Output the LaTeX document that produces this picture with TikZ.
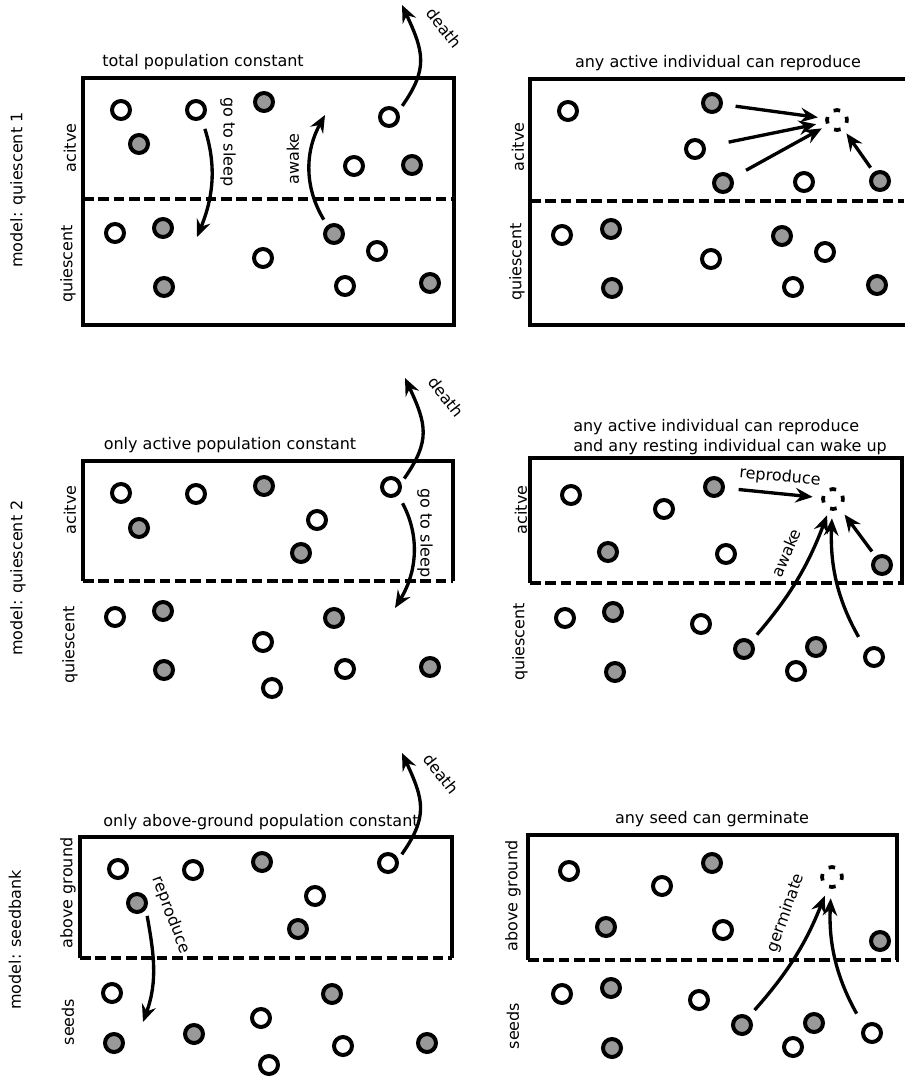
\documentclass[tikz,border=0pt]{standalone}
\usepackage{fontspec}
\setmainfont{DejaVu Sans}
\usetikzlibrary{arrows.meta}

\tikzset{
  wcell/.style={circle, draw, line width=3pt, minimum size=13.5pt, inner sep=0pt, fill=white},
  gcell/.style={wcell, fill=black!40},
  newcell/.style={circle, draw, line width=2.8pt, minimum size=15pt, inner sep=0pt,
    dash pattern=on 5pt off 6.8pt, dash phase=2.5pt},
  boxline/.style={line width=3.4pt},
  divider/.style={line width=3.4pt, dash pattern=on 8pt off 3.5pt},
  arrowline/.style={line width=2.5pt, -{Stealth[length=13pt,width=11pt,inset=4.5pt]}},
  lbl/.style={font=\fontsize{12}{15}\selectfont, inner sep=0pt},
}

\begin{document}
\begin{tikzpicture}[x=0.75pt, y=0.75pt]
	\useasboundingbox (0,0) rectangle (904,-1082);

	% model: quiescent 1
	\draw[boxline] (83,-78) rectangle (454,-325);
	\draw[divider] (83,-199) -- (454,-199);
	\foreach \n/\x/\y in {1/121/110, 2/196/110, 3/389/117, 4/354/166, 5/115/233, 6/263/258, 7/377/251, 8/345/286}
		\node[wcell] (w1-\n) at (\x,-\y) {};
	\foreach \n/\x/\y in {1/264/102, 2/139/144, 3/412/165, 4/163/228, 5/164/287, 6/334/234, 7/430/283}
		\node[gcell] (g1-\n) at (\x,-\y) {};
	\coordinate (sleep1) at (197,-237);
	\coordinate (awake1) at (325,-115);
	\coordinate (death1) at (402,-5);
	\draw[arrowline, shorten <=7.5pt] (w1-2.-58) to[bend left=20] (sleep1);
	\draw[arrowline, shorten <=5pt] (g1-6.128) to[bend left=30] (awake1);
	\draw[arrowline, shorten <=5pt] (w1-3.31) to[out=55, in=-65, looseness=1.25] (death1);
	\node[lbl] (title1) at (203,-62) {total population constant};
	\node[lbl, rotate=90] (model1) at (18,-190) {model: quiescent 1};
	\node[lbl, rotate=90] (act1) at (70,-148) {acitve};
	\node[lbl, rotate=90] (qui1) at (68,-264) {quiescent};
	\node[lbl, rotate=-90] (sleeplbl1) at (228,-142) {go to sleep};
	\node[lbl, rotate=90] (awakelbl1) at (293,-159) {awake};
	\node[lbl, rotate=-52] (deathlbl1) at (444,-28) {death};

	% any active individual can reproduce
	\draw[boxline] (912,-79) -- (530,-79) -- (530,-325) -- (912,-325);
	\draw[divider] (530,-201) -- (904,-201);
	\foreach \n/\x/\y in {1/568/111, 2/695/149, 3/804/182, 4/562/235, 5/711/259, 6/825/252, 7/793/287}
		\node[wcell] (w2-\n) at (\x,-\y) {};
	\foreach \n/\x/\y in {1/712/103, 2/723/183, 3/880/181, 4/611/229, 5/612/288, 6/782/236, 7/877/285}
		\node[gcell] (g2-\n) at (\x,-\y) {};
	\node[newcell] (new2) at (837,-120) {};
	\draw[arrowline, shorten <=9.6pt, shorten >=5.6pt] (g2-1) -- (new2);
	\draw[arrowline, shorten <=17.5pt, shorten >=7.1pt] (w2-2) -- (new2);
	\draw[arrowline, shorten <=11.5pt, shorten >=4.1pt] (g2-2) -- (new2);
	\draw[arrowline, shorten <=4pt, shorten >=3.4pt] (g2-3) -- (new2);
	\node[lbl] (title2) at (718,-63) {any active individual can reproduce};
	\node[lbl, rotate=90] (act2) at (518,-147) {acitve};
	\node[lbl, rotate=90] (qui2) at (517,-262) {quiescent};

	% model: quiescent 2
	\draw[boxline] (83,-581) -- (83,-461) -- (453,-461) -- (453,-581);
	\draw[divider] (83,-581) -- (453,-581);
	\foreach \n/\x/\y in {1/121/493, 2/196/494, 3/391/487, 4/317/520, 5/115/617, 6/263/642, 7/345/669, 8/272/688}
		\node[wcell] (w3-\n) at (\x,-\y) {};
	\foreach \n/\x/\y in {1/264/486, 2/139/528, 3/301/553, 4/163/611, 5/164/670, 6/334/618, 7/430/667}
		\node[gcell] (g3-\n) at (\x,-\y) {};
	\coordinate (sleep3) at (395,-608);
	\coordinate (death3) at (405,-378);
	\draw[arrowline, shorten <=6.8pt] (w3-3.-49) to[bend left=30] (sleep3);
	\draw[arrowline, shorten <=4pt] (w3-3.22) to[out=55, in=-65, looseness=1.25] (death3);
	\node[lbl] (title3) at (230,-445) {only active population constant};
	\node[lbl, rotate=90] (model3) at (18,-578) {model: quiescent 2};
	\node[lbl, rotate=90] (act3) at (70,-510) {acitve};
	\node[lbl, rotate=90] (qui3) at (70,-645) {quiescent};
	\node[lbl, rotate=-90] (sleeplbl3) at (425,-533) {go to sleep};
	\node[lbl, rotate=-52] (deathlbl3) at (446,-397) {death};

	% any active individual can reproduce and wake up
	\draw[boxline] (530,-583) -- (530,-458) -- (902,-458) -- (902,-583);
	\draw[divider] (530,-583) -- (904,-583);
	\foreach \n/\x/\y in {1/571/495, 2/664/509, 3/726/554, 4/565/618, 5/701/624, 6/796/671, 7/874/657}
		\node[wcell] (w4-\n) at (\x,-\y) {};
	\foreach \n/\x/\y in {1/714/487, 2/608/552, 3/882/565, 4/613/612, 5/615/672, 6/744/649, 7/816/647}
		\node[gcell] (g4-\n) at (\x,-\y) {};
	\node[newcell] (new4) at (833,-499) {};
	\draw[arrowline, shorten <=10.3pt, shorten >=6.4pt] (g4-1) -- (new4);
	\draw[arrowline, shorten <=6.2pt, shorten >=4.1pt] (g4-6.47) to[bend right=10] (new4);
	\draw[arrowline, shorten <=11pt, shorten >=5.6pt] (w4-7.138) to[bend left=16] (new4);
	\draw[arrowline, shorten <=4.4pt, shorten >=5.6pt] (g4-3) -- (new4);
	\node[lbl, anchor=west, align=left] (title4) at (573,-437) {any active individual can reproduce\\and any resting individual can wake up};
	\node[lbl, rotate=90] (act4) at (521,-510) {acitve};
	\node[lbl, rotate=90] (qui4) at (520,-642) {quiescent};
	\node[lbl, rotate=-5] (replbl4) at (780,-477) {reproduce};
	\node[lbl, rotate=66] (awakelbl4) at (786,-553) {awake};

	% model: seedbank
	\draw[boxline] (80,-958) -- (80,-837) -- (452,-837) -- (452,-958);
	\draw[divider] (80,-958) -- (452,-958);
	\foreach \n/\x/\y in {1/118/869, 2/193/870, 3/388/863, 4/315/896, 5/112/993, 6/261/1018, 7/269/1065, 8/343/1046}
		\node[wcell] (w5-\n) at (\x,-\y) {};
	\foreach \n/\x/\y in {1/262/862, 2/137/903, 3/298/929, 4/114/1043, 5/194/1034, 6/332/994, 7/427/1043}
		\node[gcell] (g5-\n) at (\x,-\y) {};
	\coordinate (seed5) at (143,-1022);
	\coordinate (death5) at (402,-753);
	\draw[arrowline, shorten <=5pt] (g5-2.-35) to[out=-80, in=70] (seed5);
	\draw[arrowline, shorten <=4.5pt] (w5-3.20) to[out=55, in=-65, looseness=1.25] (death5);
	\node[lbl] (title5) at (261,-822) {only above-ground population constant};
	\node[lbl, rotate=90] (model5) at (15,-940) {model: seedbank};
	\node[lbl, rotate=90] (above5) at (68,-893) {above ground};
	\node[lbl, rotate=90] (seeds5) at (68,-1022) {seeds};
	\node[lbl, rotate=-69] (replbl5) at (171,-915) {reproduce};
	\node[lbl, rotate=-52] (deathlbl5) at (441,-774) {death};

	% any seed can germinate
	\draw[boxline] (528,-960) -- (528,-835) -- (897,-835) -- (897,-960);
	\draw[divider] (528,-960) -- (899,-960);
	\foreach \n/\x/\y in {1/569/871, 2/662/886, 3/723/930, 4/562/994, 5/699/1000, 6/793/1047, 7/872/1033}
		\node[wcell] (w6-\n) at (\x,-\y) {};
	\foreach \n/\x/\y in {1/712/863, 2/606/927, 3/880/941, 4/611/988, 5/612/1048, 6/742/1025, 7/814/1023}
		\node[gcell] (g6-\n) at (\x,-\y) {};
	\node[newcell] (new6) at (832,-877) {};
	\draw[arrowline, shorten <=6.4pt, shorten >=6.2pt] (g6-6.51) to[bend right=10] (new6);
	\draw[arrowline, shorten <=10.6pt, shorten >=7.1pt] (w6-7.140) to[bend left=16] (new6);
	\node[lbl] (title6) at (712,-819) {any seed can germinate};
	\node[lbl, rotate=90] (above6) at (513,-896) {above ground};
	\node[lbl, rotate=90] (seeds6) at (513,-1026) {seeds};
	\node[lbl, rotate=70] (germlbl6) at (786,-913) {germinate};
\end{tikzpicture}
\end{document}
